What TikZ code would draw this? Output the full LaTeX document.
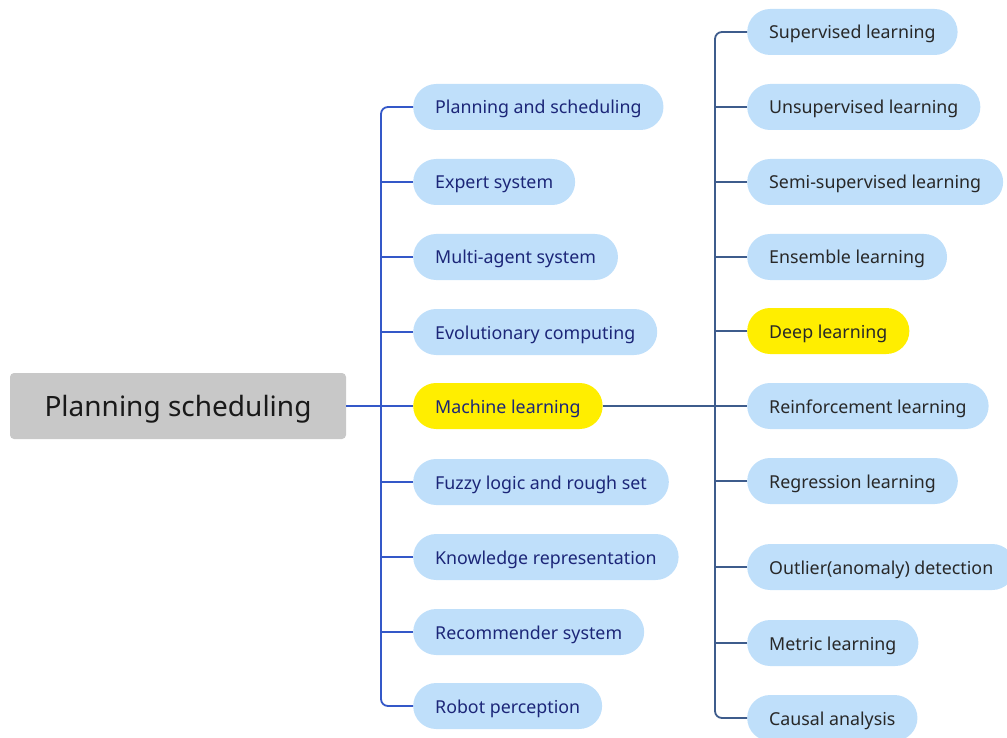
\documentclass[tikz,border=0pt]{standalone}
\usepackage{fontspec}
\setmainfont{Noto Sans}
\begin{document}
\begin{tikzpicture}[x=1pt,y=-1pt,
  topic/.style={draw=none, fill=leafblue, rounded corners=23pt, minimum height=46pt,
    inner xsep=22pt, anchor=west, text height=18pt, text depth=4pt,
    font=\fontsize{17.8}{20}\selectfont},
  lefttopic/.style={topic, text=leftink},
  righttopic/.style={topic, text=rightink},
  hot/.style={fill=hotyellow},
  lline/.style={draw=leftline, line width=1.8pt},
  rline/.style={draw=rightline, line width=1.8pt},
  rootbox/.style={fill=rootgray, rounded corners=4pt, minimum width=336pt, minimum height=66pt,
    text height=27pt, text depth=6.7pt,
    text=rootink, font=\fontsize{28}{32}\selectfont}
]
\definecolor{leafblue}{RGB}{191,223,250}
\definecolor{hotyellow}{RGB}{255,238,0}
\definecolor{rootgray}{RGB}{200,200,200}
\definecolor{rootink}{RGB}{25,25,25}
\definecolor{leftink}{RGB}{28,38,120}
\definecolor{rightink}{RGB}{40,40,40}
\definecolor{leftline}{RGB}{52,88,200}
\definecolor{rightline}{RGB}{62,92,140}

\useasboundingbox (0,0) rectangle (1007,738);

% central topic
\node[rootbox] (root) at (178,406) {Planning scheduling};

% first level
\node[lefttopic] (l1) at (413,107) {Planning and scheduling};
\node[lefttopic] (l2) at (413,182) {Expert system};
\node[lefttopic] (l3) at (413,257) {Multi-agent system};
\node[lefttopic] (l4) at (413,332) {Evolutionary computing};
\node[lefttopic,hot] (l5) at (413,406) {Machine learning};
\node[lefttopic] (l6) at (413,482) {Fuzzy logic and rough set};
\node[lefttopic] (l7) at (413,557) {Knowledge representation};
\node[lefttopic] (l8) at (413,632) {Recommender system};
\node[lefttopic] (l9) at (413,706) {Robot perception};

% machine learning subtopics
\node[righttopic] (r1) at (747,32) {Supervised learning};
\node[righttopic] (r2) at (747,107) {Unsupervised learning};
\node[righttopic] (r3) at (747,182) {Semi-supervised learning};
\node[righttopic] (r4) at (747,257) {Ensemble learning};
\node[righttopic,hot] (r5) at (747,331) {Deep learning};
\node[righttopic] (r6) at (747,406) {Reinforcement learning};
\node[righttopic] (r7) at (747,481) {Regression learning};
\node[righttopic] (r8) at (747,567) {Outlier(anomaly) detection};
\node[righttopic] (r9) at (747,643) {Metric learning};
\node[righttopic] (r10) at (747,718) {Causal analysis};

% connectors, first level
\draw[lline] (root.east) -- (l5.west);
\draw[lline, rounded corners=7pt] (l1.west) -- ++(-32,0) |- (l9.west);
\foreach \n in {l2,l3,l4,l6,l7,l8}
  \draw[lline] (\n.west) -- ++(-32,0);

% connectors, second level
\draw[rline] (l5.east) -- (r6.west);
\draw[rline, rounded corners=7pt] (r1.west) -- ++(-32,0) |- (r10.west);
\foreach \n in {r2,r3,r4,r5,r7,r8,r9}
  \draw[rline] (\n.west) -- ++(-32,0);
\end{tikzpicture}
\end{document}
